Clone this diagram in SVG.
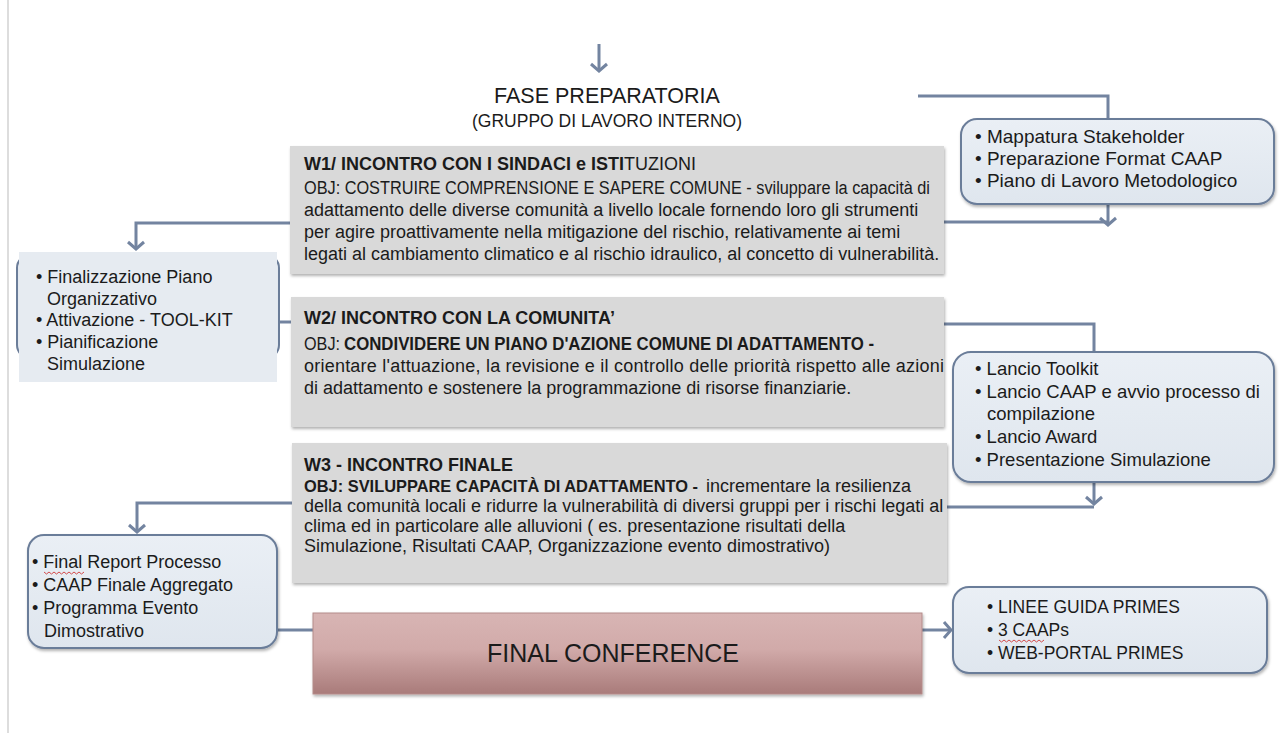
<svg xmlns="http://www.w3.org/2000/svg" width="1279" height="745" viewBox="0 0 1279 745">
<defs>
<style>
text{font-family:"Liberation Sans",Arial,sans-serif;fill:#1b1b1b}
.conn{fill:none;stroke:#7384a0;stroke-width:3}
.wbox{fill:#d9d9d9;filter:url(#sh)}
.rbox{fill:url(#gb);stroke:#6b7d99;stroke-width:2;filter:url(#sh)}
.body{font-size:18px}
.b{font-weight:bold}
.rt{font-size:19px}
.lt{font-size:18px}
.wave{fill:none;stroke:#d24a4a;stroke-width:1}
</style>
<linearGradient id="gb" x1="0" y1="0" x2="0" y2="1">
<stop offset="0" stop-color="#eaeff5"/>
<stop offset="1" stop-color="#dfe6ee"/>
</linearGradient>
<linearGradient id="gr" x1="0" y1="0" x2="0" y2="1">
<stop offset="0" stop-color="#d8b5b4"/>
<stop offset="0.45" stop-color="#d1aaa9"/>
<stop offset="1" stop-color="#a97b7a"/>
</linearGradient>
<filter id="sh" x="-5%" y="-10%" width="110%" height="130%">
<feDropShadow dx="1" dy="2" stdDeviation="1.5" flood-color="#000" flood-opacity="0.3"/>
</filter>
<marker id="ah" viewBox="-10 -10 12 20" refX="0" refY="0" markerWidth="12" markerHeight="20" markerUnits="userSpaceOnUse" orient="auto">
<path d="M-7,-8 L0,0 L-7,8" fill="none" stroke="#7384a0" stroke-width="3"/>
</marker>
</defs>

<line x1="8" y1="0" x2="8" y2="733" stroke="#d2d2d2" stroke-width="1.5"/>

<g id="connectors">
<path class="conn" d="M599,44 V71" marker-end="url(#ah)"/>
<path class="conn" d="M918,96 H1108 V119"/>
<path class="conn" d="M1108,204 V225" marker-end="url(#ah)"/>
<path class="conn" d="M944,222 H1108"/>
<path class="conn" d="M290,223 H136 V249" marker-end="url(#ah)"/>
<path class="conn" d="M291,322 H279"/>
<path class="conn" d="M944,324 H1094 V352"/>
<path class="conn" d="M1094,482 V504" marker-end="url(#ah)"/>
<path class="conn" d="M947,507 H1094"/>
<path class="conn" d="M292,503 H137 V532" marker-end="url(#ah)"/>
<path class="conn" d="M277,630 H313"/>
<path class="conn" d="M922,630 H951" marker-end="url(#ah)"/>
</g>

<g id="fase">
<text x="607" y="103" text-anchor="middle" font-size="21.5">FASE PREPARATORIA</text>
<text x="607" y="127" text-anchor="middle" font-size="17.5">(GRUPPO DI LAVORO INTERNO)</text>
</g>

<g id="w1">
<rect class="wbox" x="290" y="146" width="654" height="128"/>
<text class="body b" x="304" y="170">W1/ INCONTRO CON I SINDACI e ISTI<tspan font-weight="normal">TUZIONI</tspan></text>
<text class="body" x="304" y="194" textLength="626" lengthAdjust="spacingAndGlyphs">OBJ: COSTRUIRE COMPRENSIONE E SAPERE COMUNE - sviluppare la capacità di</text>
<text class="body" x="304" y="216">adattamento delle diverse comunità a livello locale fornendo loro gli strumenti</text>
<text class="body" x="304" y="238">per agire proattivamente nella mitigazione del rischio, relativamente ai temi</text>
<text class="body" x="304" y="260">legati al cambiamento climatico e al rischio idraulico, al concetto di vulnerabilità.</text>
</g>

<g id="w2">
<rect class="wbox" x="291" y="297" width="653" height="130"/>
<text class="body b" x="304" y="324">W2/ INCONTRO CON LA COMUNITA’</text>
<text class="body" x="304" y="350" textLength="36" lengthAdjust="spacingAndGlyphs">OBJ:</text>
<text class="body b" x="344" y="350" textLength="530" lengthAdjust="spacingAndGlyphs">CONDIVIDERE UN PIANO D'AZIONE COMUNE DI ADATTAMENTO -</text>
<text class="body" x="304" y="372" textLength="640" lengthAdjust="spacing">orientare l'attuazione, la revisione e il controllo delle priorità rispetto alle azioni</text>
<text class="body" x="304" y="394">di adattamento e sostenere la programmazione di risorse finanziarie.</text>
</g>

<g id="w3">
<rect class="wbox" x="292" y="443" width="655" height="140"/>
<text class="body b" x="304" y="471">W3 - INCONTRO FINALE</text>
<text class="b" x="304" y="492" font-size="16.4">OBJ: SVILUPPARE CAPACITÀ DI ADATTAMENTO -</text>
<text class="body" x="706" y="492">incrementare la resilienza</text>
<text class="body" x="304" y="512">della comunità locali e ridurre la vulnerabilità di diversi gruppi per i rischi legati al</text>
<text class="body" x="304" y="532">clima ed in particolare alle alluvioni ( es. presentazione risultati della</text>
<text class="body" x="304" y="552">Simulazione, Risultati CAAP, Organizzazione evento dimostrativo)</text>
</g>

<g id="prep-out">
<rect class="rbox" x="961" y="119" width="313" height="85" rx="16"/>
<text class="rt" x="975" y="143">• Mappatura Stakeholder</text>
<text class="rt" x="975" y="165">• Preparazione Format CAAP</text>
<text class="rt" x="975" y="187">• Piano di Lavoro Metodologico</text>
</g>

<g id="w1-out">
<rect x="17" y="255" width="262" height="103" rx="13" fill="#e3e9f0" stroke="#6b7d99" stroke-width="2"/>
<rect x="19" y="252" width="258" height="130" fill="#e6ebf1"/>
<text class="lt" x="36" y="283">• Finalizzazione Piano</text>
<text class="lt" x="47" y="305">Organizzativo</text>
<text class="lt" x="36" y="326">• Attivazione - TOOL-KIT</text>
<text class="lt" x="36" y="348">• Pianificazione</text>
<text class="lt" x="47" y="370">Simulazione</text>
</g>

<g id="w2-out">
<rect class="rbox" x="953" y="352" width="321" height="130" rx="18"/>
<text x="975" y="375" font-size="18.5">• Lancio Toolkit</text>
<text x="975" y="398" font-size="18.5">• Lancio CAAP e avvio processo di</text>
<text x="987" y="420" font-size="18.5">compilazione</text>
<text x="975" y="443" font-size="18.5">• Lancio Award</text>
<text x="975" y="466" font-size="18.5">• Presentazione Simulazione</text>
</g>

<g id="w3-out">
<rect class="rbox" x="28" y="535" width="249" height="113" rx="16"/>
<text class="lt" x="32" y="568">• Final Report Processo</text>
<path class="wave" d="M44,572 l2.5,2 l2.5,-2 l2.5,2 l2.5,-2 l2.5,2 l2.5,-2 l2.5,2 l2.5,-2 l2.5,2 l2.5,-2 l2.5,2 l2.5,-2 l2.5,2 l2.5,-2 l2.5,2 l2.5,-2"/>
<text class="lt" x="32" y="591">• CAAP Finale Aggregato</text>
<text class="lt" x="32" y="614">• Programma Evento</text>
<text class="lt" x="44" y="637">Dimostrativo</text>
</g>

<g id="final-conference">
<rect x="313" y="613" width="609" height="81" fill="url(#gr)" stroke="#b48b8a" stroke-width="1" filter="url(#sh)"/>
<text x="613" y="662" text-anchor="middle" font-size="25">FINAL CONFERENCE</text>
</g>

<g id="final-out">
<rect class="rbox" x="953" y="587" width="314" height="86" rx="16"/>
<text x="987" y="613" font-size="17.5">• LINEE GUIDA PRIMES</text>
<text x="987" y="636" font-size="17.5">• 3 CAAPs</text>
<path class="wave" d="M999,640 l2.5,2 l2.5,-2 l2.5,2 l2.5,-2 l2.5,2 l2.5,-2 l2.5,2 l2.5,-2 l2.5,2 l2.5,-2 l2.5,2 l2.5,-2 l2.5,2 l2.5,-2 l2.5,2 l2.5,-2 l2.5,2 l2.5,-2"/>
<text x="987" y="659" font-size="17.5">• WEB-PORTAL PRIMES</text>
</g>
</svg>
